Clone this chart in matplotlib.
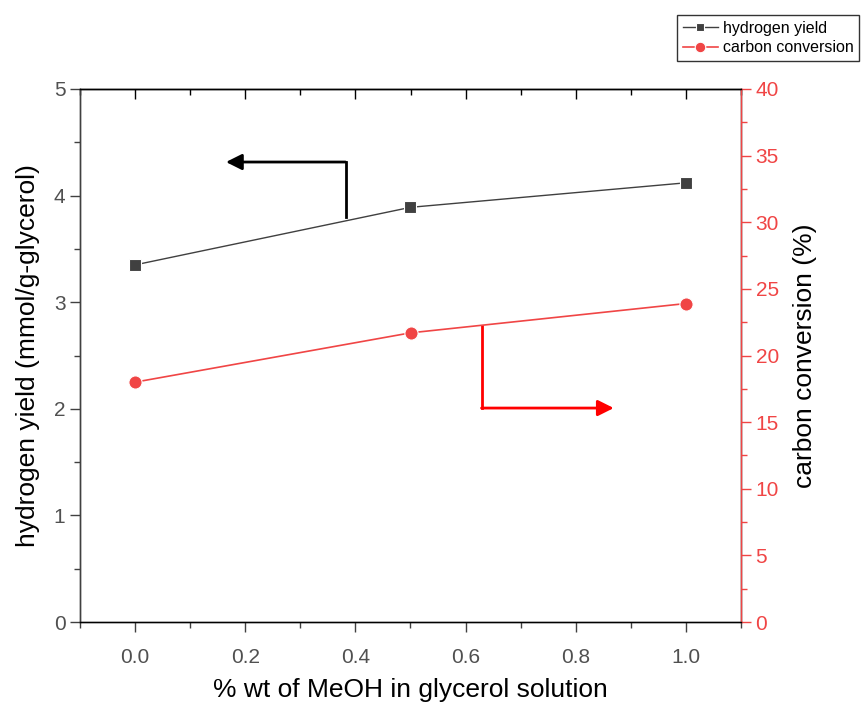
import matplotlib
matplotlib.use("Agg")
import matplotlib.pyplot as plt
from matplotlib.ticker import MultipleLocator, FormatStrFormatter

plt.rcParams['font.family'] = ['Liberation Sans', 'DejaVu Sans']

# data
meoh = [0.0, 0.5, 1.0]
h2_yield = [3.35, 3.89, 4.12]
carbon_conv = [18.0, 21.7, 23.9]

fig = plt.figure(figsize=(8.65, 7.06), dpi=100)
ax = fig.add_axes([80 / 865, 1 - 622 / 706, 661 / 865, 533 / 706])
ax2 = ax.twinx()

grey = '#404040'
red = '#f04545'
tick_grey = '#505050'

l1, = ax.plot(meoh, h2_yield, '-', color=grey, lw=1.0, marker='s', ms=8,
              mec='white', mew=0.8, label='hydrogen yield')
l2, = ax2.plot(meoh, carbon_conv, '-', color=red, lw=1.2, marker='o', ms=9.5,
               mec='white', mew=0.8, label='carbon conversion')

ax.set_xlim(-0.1, 1.1)
ax.set_ylim(0, 5)
ax2.set_ylim(0, 40)

ax.xaxis.set_major_locator(MultipleLocator(0.2))
ax.xaxis.set_minor_locator(MultipleLocator(0.1))
ax.yaxis.set_major_locator(MultipleLocator(1))
ax.yaxis.set_minor_locator(MultipleLocator(0.5))
ax2.yaxis.set_major_locator(MultipleLocator(5))
ax2.yaxis.set_minor_locator(MultipleLocator(2.5))
ax.xaxis.set_major_formatter(FormatStrFormatter('%.1f'))

ax.tick_params(axis='both', which='major', direction='out', length=7,
               width=1, labelsize=15, labelcolor=tick_grey, color=grey)
ax.tick_params(axis='both', which='minor', direction='out', length=4,
               width=1, color=grey)
ax.tick_params(axis='x', which='major', pad=12)
# secondary x axis on top just for the inward ticks
axt = ax.secondary_xaxis('top')
axt.xaxis.set_major_locator(MultipleLocator(0.2))
axt.xaxis.set_minor_locator(MultipleLocator(0.1))
axt.tick_params(axis='x', which='major', direction='in', length=7, width=1,
                labeltop=False, color='black')
axt.tick_params(axis='x', which='minor', direction='in', length=4, width=1,
                color='black')
axt.spines['top'].set_color('black')

ax2.tick_params(axis='y', which='major', direction='out', length=7, width=1,
                labelsize=15, labelcolor=red, color=red)
ax2.tick_params(axis='y', which='minor', direction='out', length=4, width=1,
                color=red)

for s in ['left', 'bottom']:
    ax.spines[s].set_color(grey)
ax.spines['top'].set_color('black')
ax2.spines['right'].set_color(red)
ax2.spines['left'].set_color(grey)
ax2.spines['top'].set_color('black')
for a in (ax, ax2):
    for s in a.spines.values():
        s.set_linewidth(1.0)

ax.set_xlabel('% wt of MeOH in glycerol solution', fontsize=19, labelpad=8)
ax.set_ylabel('hydrogen yield (mmol/g-glycerol)', fontsize=19, labelpad=10)
ax2.set_ylabel('carbon conversion (%)', fontsize=19, labelpad=10)

# arrows pointing to the axes
ax.plot([0.382, 0.382], [3.80, 4.315], color='black', lw=2)
ax.annotate('', xy=(0.165, 4.315), xytext=(0.382, 4.315),
            arrowprops=dict(arrowstyle='-|>', color='black', lw=2,
                            mutation_scale=24, shrinkA=0, shrinkB=0))
ax.plot([0.629, 0.629], [2.78, 2.007], color='red', lw=2)
ax.annotate('', xy=(0.869, 2.007), xytext=(0.629, 2.007),
            arrowprops=dict(arrowstyle='-|>', color='red', lw=2,
                            mutation_scale=24, shrinkA=0, shrinkB=0))

leg = fig.legend(handles=[l1, l2], loc='upper left',
                 bbox_to_anchor=(677 / 865, 1 - 15 / 706), fontsize=11.5,
                 frameon=True, fancybox=False, edgecolor='black',
                 handlelength=2.2, handletextpad=0.3, borderpad=0.35,
                 labelspacing=0.3, borderaxespad=0, markerscale=0.8)
leg.get_frame().set_linewidth(1.0)

fig.savefig('out.png', dpi=100)
